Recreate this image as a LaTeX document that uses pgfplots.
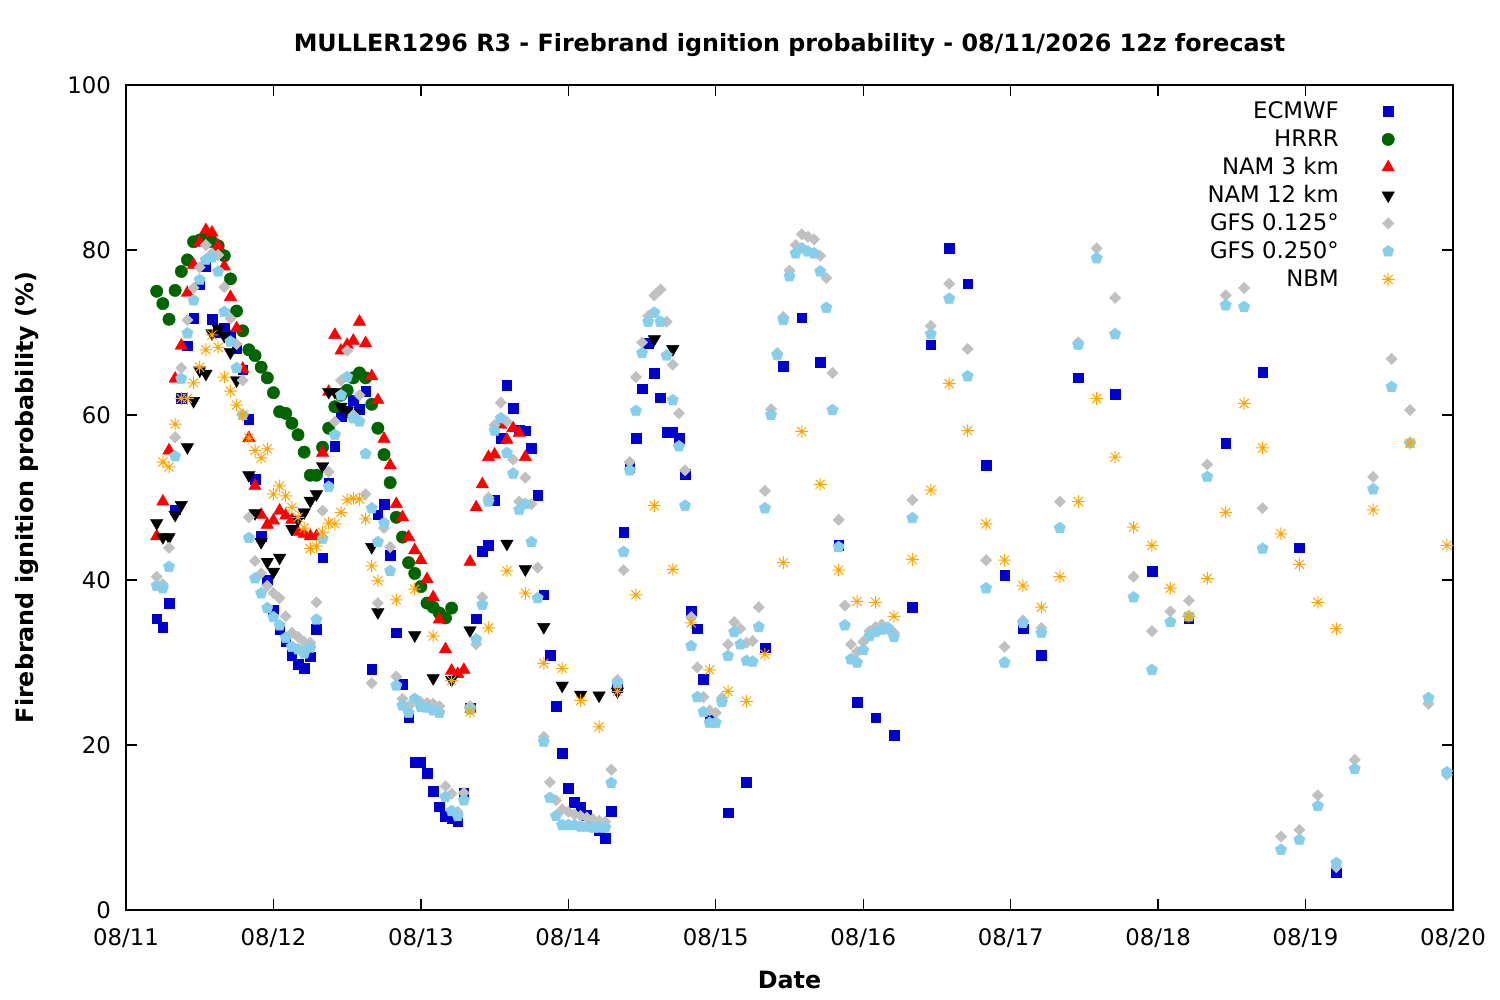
\documentclass[border=0pt]{standalone}
\usepackage{fontspec}
\setmainfont{DejaVu Sans}
\usepackage{pgfplots}
\usepackage{pgfplotstable}
\pgfplotsset{compat=1.18}
\usetikzlibrary{plotmarks}
\newcommand\fs{\fontsize{11.4bp}{13.7bp}\selectfont}
\newcommand\fb{\fontsize{11.9bp}{14.2bp}\selectfont\bfseries}
\definecolor{ecblue}{RGB}{0,0,205}
\definecolor{hrgreen}{RGB}{0,100,0}
\definecolor{gfsgray}{RGB}{192,192,192}
\definecolor{gfsblue}{RGB}{135,206,235}
\definecolor{nbmorange}{RGB}{255,165,0}
\pgfdeclareplotmark{gpstar}{%
 \pgfpathmoveto{\pgfqpoint{-\pgfplotmarksize}{0pt}}%
 \pgfpathlineto{\pgfqpoint{\pgfplotmarksize}{0pt}}%
 \pgfpathmoveto{\pgfqpoint{0pt}{-\pgfplotmarksize}}%
 \pgfpathlineto{\pgfqpoint{0pt}{\pgfplotmarksize}}%
 \pgfpathmoveto{\pgfqpoint{-.7071\pgfplotmarksize}{-.7071\pgfplotmarksize}}%
 \pgfpathlineto{\pgfqpoint{.7071\pgfplotmarksize}{.7071\pgfplotmarksize}}%
 \pgfpathmoveto{\pgfqpoint{-.7071\pgfplotmarksize}{.7071\pgfplotmarksize}}%
 \pgfpathlineto{\pgfqpoint{.7071\pgfplotmarksize}{-.7071\pgfplotmarksize}}%
 \pgfusepathqstroke}

\pgfplotstableread[row sep=\\]{h v\\5 35.3\\6 34.3\\7 37.2\\8 48.5\\9 62.0\\10 68.4\\11 71.7\\12 75.8\\13 78.0\\14 71.6\\15 70.0\\16 70.5\\17 69.7\\18 68.1\\19 65.5\\20 59.5\\21 52.2\\22 45.3\\23 40.0\\24 36.4\\25 34.0\\26 32.6\\27 30.9\\28 29.8\\29 29.3\\30 30.7\\31 34.0\\32 42.7\\33 51.8\\34 56.2\\35 59.8\\36 60.5\\37 61.8\\38 60.7\\39 62.9\\40 29.2\\41 47.9\\42 49.2\\43 43.0\\44 33.6\\45 27.4\\46 23.3\\47 17.9\\48 17.9\\49 16.6\\50 14.4\\51 12.5\\52 11.4\\53 11.1\\54 10.7\\55 14.2\\56 24.5\\57 35.3\\58 43.5\\59 44.2\\60 49.7\\61 57.2\\62 63.6\\63 60.8\\64 58.2\\65 58.1\\66 56.0\\67 50.3\\68 38.2\\69 30.9\\70 24.7\\71 19.0\\72 14.8\\73 13.1\\74 12.5\\75 11.5\\76 10.5\\77 9.7\\78 8.7\\79 12.0\\80 27.0\\81 45.8\\82 53.7\\83 57.2\\84 63.2\\85 68.7\\86 65.1\\87 62.1\\88 57.9\\89 57.9\\90 57.2\\91 52.8\\92 36.2\\93 34.1\\94 28.0\\95 23.0\\98 11.8\\101 15.5\\104 31.8\\107 65.9\\110 71.8\\113 66.4\\116 44.2\\119 25.2\\122 23.3\\125 21.2\\128 36.7\\131 68.5\\134 80.2\\137 75.9\\140 53.9\\143 40.6\\146 34.1\\149 30.9\\155 64.5\\161 62.5\\167 41.1\\173 35.4\\179 56.6\\185 65.2\\191 43.9\\197 4.5\\}\ecmwf

\pgfplotstableread[row sep=\\]{h v\\5 75.0\\6 73.5\\7 71.6\\8 75.1\\9 77.4\\10 78.8\\11 81.0\\12 81.2\\13 81.5\\14 81.0\\15 80.5\\16 79.3\\17 76.5\\18 72.6\\19 70.2\\20 67.9\\21 67.2\\22 65.8\\23 64.5\\24 62.7\\25 60.4\\26 60.2\\27 59.0\\28 57.6\\29 55.5\\30 52.7\\31 52.7\\32 56.1\\33 58.4\\34 61.0\\35 62.4\\36 63.0\\37 64.5\\38 65.1\\39 64.5\\40 61.3\\41 58.4\\42 55.2\\43 51.8\\44 47.6\\45 45.2\\46 42.1\\47 40.8\\48 39.2\\49 37.2\\50 36.7\\51 36.0\\52 35.4\\53 36.6\\}\hrrr

\pgfplotstableread[row sep=\\]{h v\\5 45.3\\6 49.5\\7 55.7\\8 64.4\\9 68.4\\10 74.8\\11 78.2\\12 80.9\\13 82.4\\14 82.1\\15 80.5\\16 78.0\\17 74.3\\18 70.5\\19 65.6\\20 57.2\\21 51.4\\22 47.9\\23 46.7\\24 47.2\\25 48.4\\26 47.8\\27 47.3\\28 45.8\\29 45.6\\30 45.3\\31 45.3\\32 55.4\\33 62.8\\34 69.7\\35 67.8\\36 68.5\\37 69.0\\38 71.3\\39 68.7\\40 64.7\\41 61.8\\42 57.1\\43 53.9\\44 49.2\\45 47.6\\46 45.2\\47 43.6\\48 42.4\\49 40.1\\50 37.9\\51 35.2\\52 31.6\\53 29.0\\54 28.6\\55 29.1\\56 42.2\\57 48.8\\58 51.6\\59 54.9\\60 55.2\\61 58.8\\62 57.0\\63 58.4\\64 57.8\\65 54.9\\}\namthree

\pgfplotstableread[row sep=\\]{h v\\5 46.9\\6 45.2\\7 45.2\\8 47.9\\9 49.1\\10 56.1\\11 61.7\\12 65.4\\13 65.0\\14 69.9\\15 70.5\\16 69.6\\17 67.6\\18 64.2\\20 52.7\\21 48.1\\22 44.6\\23 42.2\\24 41.0\\25 42.7\\27 46.2\\28 47.3\\29 48.2\\30 49.6\\31 50.4\\32 53.8\\33 62.8\\34 62.8\\35 61.0\\36 60.5\\37 60.2\\40 44.0\\41 36.1\\47 33.3\\50 28.1\\53 27.9\\56 33.9\\62 44.4\\65 41.3\\68 34.3\\71 27.2\\74 26.1\\77 26.0\\80 26.5\\86 69.2\\89 68.0\\}\namtwelve

\pgfplotstableread[row sep=\\]{h v\\5 40.4\\6 39.5\\7 43.9\\8 57.3\\9 65.7\\10 71.5\\11 75.4\\12 77.9\\13 80.6\\14 79.6\\15 79.4\\16 75.5\\17 71.7\\18 68.6\\19 64.2\\20 47.6\\21 42.3\\22 40.8\\23 39.3\\24 38.4\\25 37.8\\26 35.6\\27 33.6\\28 33.1\\29 32.5\\30 32.4\\31 37.3\\32 48.4\\33 53.1\\34 59.2\\35 64.2\\36 67.8\\37 60.0\\38 62.4\\39 50.4\\40 27.5\\41 37.2\\42 46.3\\43 44.0\\44 28.3\\45 25.6\\46 24.7\\47 25.5\\48 25.2\\49 25.1\\50 25.0\\51 24.7\\52 15.0\\53 14.1\\54 11.9\\55 14.2\\56 24.7\\57 32.2\\58 37.9\\59 50.0\\60 58.8\\61 61.5\\62 59.2\\63 54.6\\64 49.5\\65 52.4\\66 49.2\\67 41.5\\68 21.0\\69 15.5\\70 13.3\\71 12.2\\72 11.9\\73 11.6\\74 11.4\\75 11.2\\76 11.0\\77 10.8\\78 10.7\\79 17.0\\80 27.9\\81 41.2\\82 54.3\\83 64.6\\84 68.8\\85 72.0\\86 74.5\\87 75.2\\88 71.3\\89 66.1\\90 60.2\\91 53.3\\92 35.5\\93 29.4\\94 25.8\\95 24.2\\96 23.9\\97 25.7\\98 32.2\\99 34.9\\100 34.1\\101 32.4\\102 32.6\\103 36.7\\104 50.8\\105 60.7\\106 67.5\\107 71.9\\108 77.5\\109 80.6\\110 81.9\\111 81.6\\112 81.3\\113 79.3\\114 76.6\\115 65.1\\116 47.3\\117 36.9\\118 32.2\\119 31.3\\120 32.5\\121 33.8\\122 34.3\\123 34.6\\124 34.0\\125 33.6\\128 49.7\\131 70.8\\134 75.9\\137 68.0\\140 42.4\\143 31.9\\146 35.1\\149 34.2\\152 49.5\\155 68.8\\158 80.2\\161 74.2\\164 40.4\\167 33.8\\170 36.2\\173 37.5\\176 54.0\\179 74.5\\182 75.4\\185 48.7\\188 8.9\\191 9.7\\194 13.9\\197 5.2\\200 18.2\\203 52.5\\206 66.8\\209 60.6\\212 25.0\\215 16.4\\}\gfsa

\pgfplotstableread[row sep=\\]{h v\\5 39.3\\6 39.0\\7 41.6\\8 55.0\\9 64.4\\10 69.9\\11 73.9\\12 76.4\\13 78.8\\14 79.1\\15 77.4\\16 72.5\\17 68.9\\18 65.7\\19 60.0\\20 45.1\\21 40.2\\22 38.4\\23 36.6\\24 35.5\\25 34.5\\26 33.0\\27 31.9\\28 31.6\\29 31.1\\30 31.8\\31 35.2\\32 45.0\\33 51.3\\34 57.6\\35 62.4\\36 64.6\\37 59.6\\38 59.2\\39 55.3\\40 48.7\\41 44.6\\42 46.9\\43 41.1\\44 27.2\\45 24.8\\46 23.9\\47 25.6\\48 24.6\\49 24.5\\50 24.2\\51 23.9\\52 13.7\\53 12.0\\54 11.4\\55 13.3\\56 24.3\\57 32.8\\58 37.0\\59 49.5\\60 58.1\\61 59.6\\62 55.4\\63 52.9\\64 48.5\\65 49.2\\66 44.6\\67 37.8\\68 20.4\\69 13.6\\70 11.4\\71 10.3\\72 10.3\\73 10.3\\74 10.1\\75 10.1\\76 10.0\\77 10.0\\78 10.0\\79 15.4\\80 27.5\\81 43.4\\82 53.3\\83 60.5\\84 67.5\\85 71.3\\86 72.4\\87 71.3\\88 67.2\\89 61.8\\90 56.2\\91 49.0\\92 32.0\\93 25.8\\94 24.0\\95 22.7\\96 22.7\\97 25.2\\98 30.8\\99 33.7\\100 32.2\\101 30.2\\102 30.1\\103 34.3\\104 48.7\\105 60.0\\106 67.3\\107 71.5\\108 76.8\\109 79.6\\110 80.2\\111 79.8\\112 79.6\\113 77.4\\114 73.0\\115 60.6\\116 44.0\\117 34.5\\118 30.4\\119 30.0\\120 31.5\\121 33.2\\122 33.7\\123 34.0\\124 34.2\\125 33.1\\128 47.5\\131 69.8\\134 74.1\\137 64.7\\140 39.0\\143 30.0\\146 34.8\\149 33.6\\152 46.3\\155 68.5\\158 79.0\\161 69.8\\164 37.9\\167 29.1\\170 34.9\\173 35.6\\176 52.5\\179 73.3\\182 73.1\\185 43.8\\188 7.3\\191 8.5\\194 12.6\\197 5.7\\200 17.1\\203 51.0\\206 63.4\\209 56.6\\212 25.7\\215 16.7\\}\gfsb

\pgfplotstableread[row sep=\\]{h v\\6 54.3\\7 53.7\\8 58.9\\9 62.0\\10 62.0\\11 63.9\\12 65.8\\13 67.9\\14 69.7\\15 68.2\\16 64.6\\17 62.9\\18 61.2\\19 60.0\\20 57.2\\21 55.7\\22 54.8\\23 55.9\\24 50.4\\25 51.4\\26 50.2\\27 48.8\\28 47.6\\29 46.3\\30 43.8\\31 44.1\\32 45.8\\33 46.9\\34 46.8\\35 48.2\\36 49.7\\37 49.9\\38 49.8\\39 47.4\\40 41.7\\41 39.9\\44 37.6\\47 38.9\\50 33.2\\53 27.8\\56 24.0\\59 34.2\\62 41.1\\65 38.4\\68 29.9\\71 29.3\\74 25.4\\77 22.2\\80 26.5\\83 38.2\\86 49.0\\89 41.3\\92 34.8\\95 29.1\\98 26.5\\101 25.3\\104 31.0\\107 42.1\\110 58.0\\113 51.6\\116 41.2\\119 37.4\\122 37.3\\125 35.6\\128 42.5\\131 50.9\\134 63.8\\137 58.1\\140 46.8\\143 42.4\\146 39.3\\149 36.7\\152 40.4\\155 49.5\\158 62.0\\161 54.9\\164 46.4\\167 44.2\\170 39.0\\173 35.6\\176 40.2\\179 48.2\\182 61.4\\185 56.0\\188 45.6\\191 41.9\\194 37.3\\197 34.1\\203 48.5\\209 56.6\\215 44.2\\}\nbm

\begin{document}
\begin{tikzpicture}
\begin{axis}[
 at={(0,0)}, anchor=south west,
 scale only axis, width=663.5bp, height=412.5bp,
 xmin=0, xmax=216, ymin=0, ymax=100,
 xtick={0,24,...,216},
 xticklabels={08/11,08/12,08/13,08/14,08/15,08/16,08/17,08/18,08/19,08/20},
 ytick={0,20,40,60,80,100},
 tick align=inside, major tick length=5.5bp,
 axis line style={line width=0.7bp},
 every tick/.style={line width=0.7bp, black},
 tick label style={font=\fs},
 yticklabel style={xshift=-4bp},
 xticklabel style={yshift=-5.7bp},
 /pgf/number format/assume math mode=true,
 title={MULLER1296 R3 - Firebrand ignition probability - 08/11/2026 12z forecast},
 title style={font=\fb, at={(axis description cs:0.5,1.0345)}, anchor=center},
 xlabel={Date},
 xlabel style={font=\fb, at={(axis description cs:0.5,-0.0848)}, anchor=center},
 ylabel={Firebrand ignition probability (\%)},
 ylabel style={font=\fb, at={(axis description cs:-0.0746,0.5)}, anchor=center},
 legend style={draw=none, fill=none, font=\fs, at={(axis description cs:1,1)}, xshift=-29bp, yshift=-7.25bp, anchor=north east, inner sep=0pt, row sep=2.5bp, nodes={inner sep=1bp, text height=8.5bp, text depth=1bp}, /tikz/column sep=20.5bp},
 legend cell align=right, legend plot pos=right,
]
\addplot[only marks, mark=square*, mark size=2.4bp, color=ecblue, mark options={line width=0.2bp}] table[x=h,y=v]{\ecmwf};
\addlegendentry{ECMWF}
\addplot[only marks, mark=*, mark size=3.1bp, color=hrgreen, mark options={line width=0.2bp}] table[x=h,y=v]{\hrrr};
\addlegendentry{HRRR}
\addplot[only marks, mark=triangle*, mark size=3.6bp, color=red, mark options={line width=0.2bp}] table[x=h,y=v]{\namthree};
\addlegendentry{NAM 3 km}
\addplot[only marks, mark=triangle*, mark size=3.6bp, color=black, mark options={rotate=180, line width=0.2bp}] table[x=h,y=v]{\namtwelve};
\addlegendentry{NAM 12 km}
\addplot[only marks, mark=square*, mark size=2.0bp, color=gfsgray, mark options={rotate=45, line width=0.2bp}] table[x=h,y=v]{\gfsa};
\addlegendentry{GFS 0.125°}
\addplot[only marks, mark=pentagon*, mark size=3.0bp, color=gfsblue, mark options={line width=0.2bp}] table[x=h,y=v]{\gfsb};
\addlegendentry{GFS 0.250°}
\addplot[only marks, mark=gpstar, mark size=3.2bp, color=nbmorange, mark options={line width=0.5bp}] table[x=h,y=v]{\nbm};
\addlegendentry{NBM}
\end{axis}
\pgfresetboundingbox
\useasboundingbox (-63bp,-45bp) rectangle (687bp,455bp);
\end{tikzpicture}
\end{document}
